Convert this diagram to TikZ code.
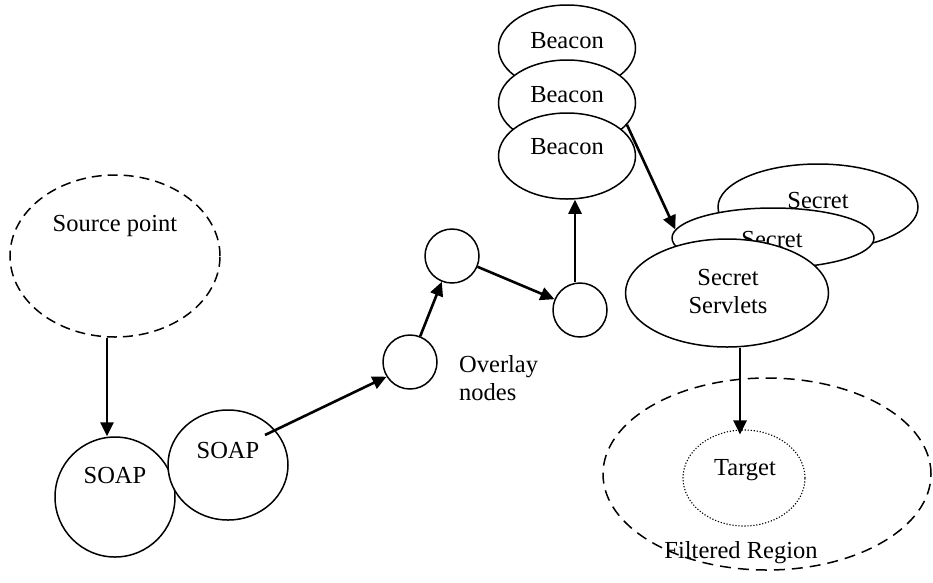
\documentclass[tikz,border=0pt]{standalone}
\usepackage{fontspec}
\setmainfont{Liberation Serif}
\usetikzlibrary{shapes.geometric,arrows.meta,calc}
\begin{document}
\begin{tikzpicture}[x=1pt,y=-1pt,
  shp/.style={ellipse, draw, line width=1.5pt, fill=white, inner sep=0pt},
  txt/.style={font=\fontsize{24.5}{28}\selectfont, inner sep=0pt, anchor=base},
  arr/.style={line width=2.6pt, -{Triangle[length=14pt,width=13pt]}},
  dsh/.style={dash pattern=on 10pt off 6pt}
]
\useasboundingbox[fill=white] (0,0) rectangle (933,582);
% source
\node[shp,dsh,minimum width=210pt,minimum height=162pt] (src) at (115,256) {};
\node[txt] (srct) at (115,231) {Source point};
% SOAP
\node[shp,minimum width=120pt,minimum height=120pt] (soap1) at (115,497) {};
\node[txt] (soap1t) at (115,483) {SOAP};
\node[shp,minimum width=120pt,minimum height=110pt] (soap2) at (228,465) {};
\node[txt] (soap2t) at (228,458) {SOAP};
% overlay nodes
\node[shp,minimum width=54pt,minimum height=54pt] (ov1) at (410,362) {};
\node[shp,minimum width=54pt,minimum height=54pt] (ov2) at (452,256) {};
\node[shp,minimum width=54pt,minimum height=54pt] (ov3) at (580,310) {};
\node[txt,anchor=base west,align=left] (ovt) at (459,400) {Overlay\\nodes};
% beacons
\node[shp,minimum width=137pt,minimum height=86pt] (b1) at (567,48) {};
\node[txt] (b1t) at (567,48) {Beacon};
\node[shp,minimum width=137pt,minimum height=86pt] (b2) at (567,103) {};
\node[txt] (b2t) at (567,102) {Beacon};
\node[shp,minimum width=137pt,minimum height=86pt] (b3) at (567,156) {};
\node[txt] (b3t) at (567,154) {Beacon};
% secrets
\node[shp,minimum width=200pt,minimum height=86pt] (sec1) at (818,207) {};
\node[txt] (sec1t) at (818,208) {Secret};
\node[shp,minimum width=202pt,minimum height=60pt] (sec2) at (773,238) {};
\node[txt] (sec2t) at (772,247) {Secret};
\node[shp,minimum width=203pt,minimum height=108pt] (sec3) at (727,293) {};
\node[txt,align=center] (sec3t) at (728,313) {Secret\\Servlets};
% filtered region and target
\node[ellipse,draw,line width=1.5pt,dash pattern=on 11pt off 7pt,inner sep=0pt,minimum width=328pt,minimum height=192pt] (filt) at (767,474) {};
\node[ellipse,draw,line width=1.1pt,dash pattern=on 1.2pt off 1.8pt,inner sep=0pt,minimum width=122pt,minimum height=96pt] (tgt) at (744,478) {};
\node[txt] (tgtt) at (745,475) {Target};
\node[txt] (filtt) at (741,558) {Filtered Region};
% connectors
\coordinate (s2out) at (265,435);
\draw[arr] ([xshift=-8pt]src.south) -- ([xshift=-8pt]soap1.north);
\draw[arr] (s2out) -- (ov1.212);
\draw[arr] (ov1) -- (ov2);
\draw[arr] (ov2) -- (ov3);
\draw[arr] ([xshift=-5pt]ov3.north) -- ([xshift=-5pt]ov3.north |- b3.south);
\draw[arr] (b2.340) -- (sec2.175);
\draw[arr] ([xshift=13pt]sec3.south) -- ([xshift=13pt,yshift=-5pt]sec3.south |- tgt.north);
\end{tikzpicture}
\end{document}
